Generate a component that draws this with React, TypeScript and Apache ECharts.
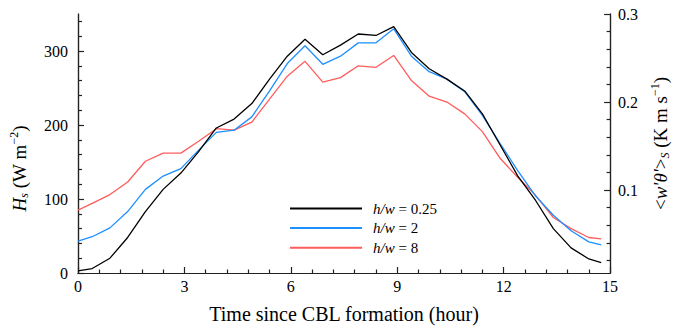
import React, { useEffect, useRef } from "react";
import * as echarts from "echarts";

// Time since CBL formation (hour)
const TIME = [0, 0.4, 0.9, 1.4, 1.9, 2.4, 2.9, 3.4, 3.9, 4.4, 4.9, 5.4, 5.9, 6.4, 6.9, 7.4, 7.9, 8.4, 8.9, 9.4, 9.9, 10.4, 10.9, 11.4, 11.9, 12.4, 12.9, 13.4, 13.9, 14.4, 14.75];
// Surface heat flux Hs (W m^-2)
const HS_025 = [3, 6, 20, 48, 83, 113, 135, 164, 196, 208, 229, 262, 293, 316, 295, 308, 323, 321, 333, 298, 276, 262, 246, 215, 173, 131, 98, 60, 34, 19, 14];
const HS_2 = [43, 49, 61, 83, 113, 131, 141, 166, 190, 193, 211, 246, 283, 307, 282, 293, 311, 311, 330, 293, 272, 262, 245, 213, 175, 138, 104, 78, 57, 42, 38];
const HS_8 = [85, 94, 106, 123, 151, 162, 162, 178, 195, 193, 204, 235, 266, 286, 258, 264, 280, 278, 294, 260, 239, 231, 215, 191, 155, 129, 105, 75, 60, 48, 46];

const SERIES_NAMES = ["h/w = 0.25", "h/w = 2", "h/w = 8"];
const SERIES_VALUES = [HS_025, HS_2, HS_8];
const COLORS = ["#000000", "#1e8fff", "#ff5c5c"];

const X_MIN = 0;
const X_MAX = 15;
const X_INTERVAL = 3;
const LEFT_MAX = 350;
const LEFT_LABELS = [0, 100, 200, 300];
const LEFT_MINOR = [20, 40, 60, 80, 120, 140, 160, 180, 220, 240, 260, 280, 320, 340];
const RHO_CP = 1190; // W m^-2 per K m s^-1
const RIGHT_MAX = 0.3;
const RIGHT_MIN = RIGHT_MAX - LEFT_MAX / RHO_CP;
const RIGHT_LABELS = [0.1, 0.2, 0.3];
const RIGHT_MINOR = [0.02, 0.04, 0.06, 0.08, 0.12, 0.14, 0.16, 0.18, 0.22, 0.24, 0.26, 0.28];

const FONT = "'Liberation Serif', 'Times New Roman', serif";
const AXIS_COLOR = "#222";

export default function App() {
  const ref = useRef<HTMLDivElement>(null);

  useEffect(() => {
    if (!ref.current) return;
    const chart = echarts.init(ref.current, undefined, { renderer: "svg" });
    const axisLine = { show: true, lineStyle: { color: AXIS_COLOR, width: 1.2 } };
    const labelStyle = { color: "#000", fontSize: 16, fontFamily: FONT };
    const nameBase = { color: "#000", fontSize: 20, fontFamily: FONT };
    const vBase = { color: "#000", fontSize: 19, fontFamily: FONT };
    const richTitle = {
      i: { ...vBase, fontStyle: "italic" },
      sub: { ...vBase, fontSize: 12, fontStyle: "italic", verticalAlign: "bottom", lineHeight: 22 },
      sup: { ...vBase, fontSize: 12, verticalAlign: "top", lineHeight: 22 },
    };

    const option: any = {
      animation: false,
      backgroundColor: "#fff",
      grid: { left: 77, right: 65, top: 14, bottom: 52 },
      legend: {
        orient: "vertical",
        left: 289,
        top: 201,
        padding: 0,
        itemWidth: 72,
        itemHeight: 14,
        itemGap: 4.6,
        itemStyle: { opacity: 0 },
        data: SERIES_NAMES,
        formatter: (name: string) => {
          const parts = name.split(" = ");
          return "{i|" + parts[0] + "}{r| = " + parts[1] + "}";
        },
        textStyle: {
          color: "#000",
          fontSize: 15,
          lineHeight: 14,
          fontFamily: FONT,
          padding: [0, 0, 0, 6],
          rich: {
            i: { fontStyle: "italic", fontSize: 15, lineHeight: 14, fontFamily: FONT, color: "#000" },
            r: { fontSize: 15, lineHeight: 14, fontFamily: FONT, color: "#000" },
          },
        },
      },
      xAxis: [
        {
          type: "value",
          min: X_MIN,
          max: X_MAX,
          interval: X_INTERVAL,
          position: "bottom",
          axisLine,
          axisTick: { show: true, inside: true, length: 6, lineStyle: { color: AXIS_COLOR, width: 1.2 } },
          minorTick: { show: true, splitNumber: 5, length: 3.5, lineStyle: { color: AXIS_COLOR, width: 1.2 } },
          splitLine: { show: false },
          minorSplitLine: { show: false },
          axisLabel: { ...labelStyle, margin: 5 },
          name: "Time since CBL formation (hour)",
          nameLocation: "middle",
          nameGap: 31,
          nameTextStyle: nameBase,
        },
        {
          type: "value",
          min: X_MIN,
          max: X_MAX,
          position: "top",
          axisLine,
          axisTick: { show: false },
          axisLabel: { show: false },
          splitLine: { show: false },
        },
      ],
      yAxis: [
        {
          type: "value",
          min: 0,
          max: LEFT_MAX,
          position: "left",
          axisLine,
          axisTick: { show: true, inside: true, length: 6, customValues: LEFT_LABELS, lineStyle: { color: AXIS_COLOR, width: 1.2 } },
          axisLabel: { ...labelStyle, margin: 10, customValues: LEFT_LABELS },
          splitLine: { show: false },
          name: "{i|H}{sub|s} (W m{sup|−2})",
          nameLocation: "middle",
          nameRotate: 90,
          nameGap: 48,
          nameTextStyle: {
            ...vBase,
            padding: [0, 50, 0, 0],
            rich: richTitle,
          },
        },
        {
          type: "value",
          min: 0,
          max: LEFT_MAX,
          position: "left",
          axisLine,
          axisTick: { show: true, inside: true, length: 4, customValues: LEFT_MINOR, lineStyle: { color: AXIS_COLOR, width: 1.2 } },
          axisLabel: { show: false },
          splitLine: { show: false },
        },
        {
          type: "value",
          min: RIGHT_MIN,
          max: RIGHT_MAX,
          position: "right",
          axisLine,
          axisTick: { show: true, inside: true, length: 6, customValues: RIGHT_LABELS, lineStyle: { color: AXIS_COLOR, width: 1.2 } },
          axisLabel: { ...labelStyle, margin: 8, customValues: RIGHT_LABELS },
          splitLine: { show: false },
          name: "<{i|w'θ'}>{sub|S} (K m s{sup|−1})",
          nameLocation: "middle",
          nameRotate: 90,
          nameGap: 35,
          nameTextStyle: {
            ...vBase,
            rich: richTitle,
          },
        },
        {
          type: "value",
          min: RIGHT_MIN,
          max: RIGHT_MAX,
          position: "right",
          axisLine,
          axisTick: { show: true, inside: true, length: 3.5, customValues: RIGHT_MINOR, lineStyle: { color: AXIS_COLOR, width: 1.2 } },
          axisLabel: { show: false },
          splitLine: { show: false },
        },
      ],
      series: SERIES_NAMES.map((name, i) => ({
        name,
        type: "line",
        xAxisIndex: 0,
        yAxisIndex: 0,
        symbol: "none",
        showSymbol: false,
        color: COLORS[i],
        lineStyle: { color: COLORS[i], width: 1.3 },
        z: 10 - i,
        data: TIME.map((t, k) => [t, SERIES_VALUES[i][k]]),
      })),
    };
    chart.setOption(option);
    return () => chart.dispose();
  }, []);

  return (
    <div
      ref={ref}
      style={{ position: "fixed", left: 0, top: 0, width: 679, height: 329, background: "#fff" }}
    />
  );
}
